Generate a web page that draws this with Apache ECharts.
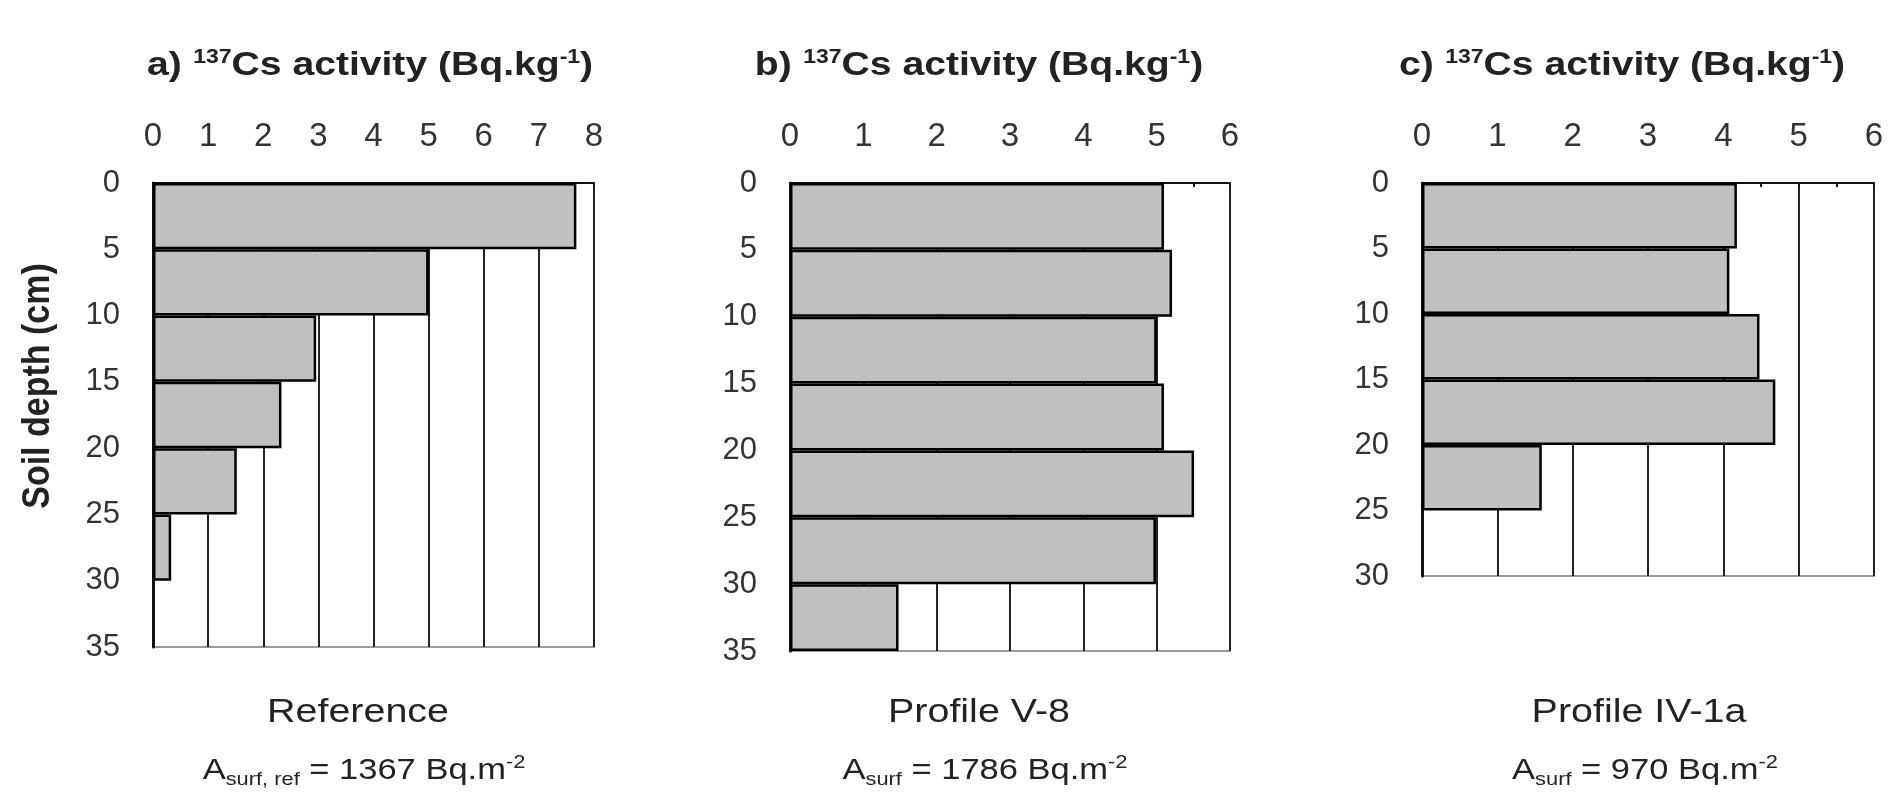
<!DOCTYPE html>
<html><head><meta charset="utf-8">
<script src="https://cdn.jsdelivr.net/npm/echarts@6/dist/echarts.min.js"></script>
<style>html,body{margin:0;padding:0;background:#fff}#c{width:1890px;height:792px}</style>
</head><body><div id="c"></div>
<script>
// ---- data ----
const depthBins7 = ['0-5', '5-10', '10-15', '15-20', '20-25', '25-30', '30-35'];
const depthBins6 = ['0-5', '5-10', '10-15', '15-20', '20-25', '25-30'];
const activityReference = [7.68, 5.0, 2.96, 2.33, 1.52, 0.33, null];
const activityV8 = [5.10, 5.21, 5.00, 5.10, 5.51, 4.99, 1.48];
const activityIV1a = [4.18, 4.08, 4.48, 4.69, 1.59, null];
const activityMax = [8, 6, 6];
const depthMax = [35, 35, 30];
const panelLetters = ['a)', 'b)', 'c)'];
const profileNames = ['Reference', 'Profile V-8', 'Profile IV-1a'];
const inventorySubs = ['surf, ref', 'surf', 'surf'];
const inventories = [1367, 1786, 970];

// ---- layout ----
const grids = [
  {left: 153, top: 183, width: 441, height: 464},
  {left: 790, top: 183, width: 440, height: 468},
  {left: 1422, top: 183, width: 452, height: 393}
];
const titleCx = [370, 979, 1622];
const labelCx = [358, 979, 1639];
const panelData = [activityReference, activityV8, activityIV1a];
const panelBins = [depthBins7, depthBins7, depthBins6];

const chart = echarts.init(document.getElementById('c'), null, {renderer: 'canvas'});
const FONT = 'Liberation Sans, Arial, sans-serif';
const INK = '#222';

const xAxes = [], yAxes = [], series = [], graphics = [];
grids.forEach((g, i) => {
  xAxes.push({
    type: 'value', gridIndex: i, position: 'top', min: 0, max: activityMax[i], interval: 1,
    axisLine: {show: true, lineStyle: {color: '#111', width: 2}},
    axisTick: {show: true, inside: true, length: 4, lineStyle: {color: '#111', width: 2}},
    minorTick: {show: true, splitNumber: 2, length: 4, lineStyle: {color: '#111', width: 2}},
    axisLabel: {fontSize: 33, color: '#333', fontFamily: FONT, margin: 30},
    splitLine: {show: true, lineStyle: {color: '#222', width: 2}}
  });
  yAxes.push({
    type: 'value', gridIndex: i, inverse: true, min: 0, max: depthMax[i], interval: 5,
    axisLine: {show: true, lineStyle: {color: '#111', width: 3}},
    axisTick: {show: false},
    axisLabel: {fontSize: 31, color: '#333', fontFamily: FONT, margin: 33},
    splitLine: {show: false}
  });
  yAxes.push({
    type: 'category', gridIndex: i, inverse: true, data: panelBins[i], show: false
  });
  series.push({
    type: 'bar', xAxisIndex: i, yAxisIndex: i * 2 + 1,
    data: panelData[i], barCategoryGap: '0%',
    itemStyle: {color: '#c0c0c0', borderColor: '#000', borderWidth: 2.5},
    emphasis: {disabled: true}, animation: false
  });
  graphics.push({
    type: 'text', x: titleCx[i], y: 66, scaleX: 1.15,
    style: {
      text: '{b|' + panelLetters[i] + '}   {s|137}{b|Cs activity (Bq.kg}{s|-1}{b|)}',
      align: 'center', verticalAlign: 'middle',
      rich: {
        b: {fontSize: 34, fontWeight: 'bold', fill: INK, fontFamily: FONT, lineHeight: 38},
        s: {fontSize: 20, fontWeight: 'bold', fill: INK, fontFamily: FONT, verticalAlign: 'top', lineHeight: 38}
      }
    }
  });
  graphics.push({
    type: 'text', x: labelCx[i], y: 713, scaleX: 1.16,
    style: {text: profileNames[i], align: 'center', verticalAlign: 'middle',
      fontSize: 34, fill: INK, fontFamily: FONT}
  });
  graphics.push({
    type: 'text', x: labelCx[i] + 6, y: 771, scaleX: 1.15,
    style: {
      text: '{n|A}{sub|' + inventorySubs[i] + '}{n| = ' + inventories[i] + ' Bq.m}{sup|-2}',
      align: 'center', verticalAlign: 'middle',
      rich: {
        n: {fontSize: 30, fill: INK, fontFamily: FONT, lineHeight: 36},
        sub: {fontSize: 19, fill: INK, fontFamily: FONT, verticalAlign: 'bottom', lineHeight: 36},
        sup: {fontSize: 19, fill: INK, fontFamily: FONT, verticalAlign: 'top', lineHeight: 36}
      }
    }
  });
});

graphics.push({
  type: 'text', x: 38, y: 386, rotation: Math.PI / 2, scaleY: 1.15,
  style: {text: 'Soil depth (cm)', align: 'center', verticalAlign: 'middle',
    fontSize: 34, fontWeight: 'bold', fill: INK, fontFamily: FONT}
});

chart.setOption({
  animation: false,
  backgroundColor: '#fff',
  grid: grids.map(g => Object.assign({show: true, borderColor: '#9a9a9a', borderWidth: 2, backgroundColor: 'transparent'}, g)),
  xAxis: xAxes,
  yAxis: yAxes,
  series: series,
  graphic: graphics
});
</script>
</body></html>
